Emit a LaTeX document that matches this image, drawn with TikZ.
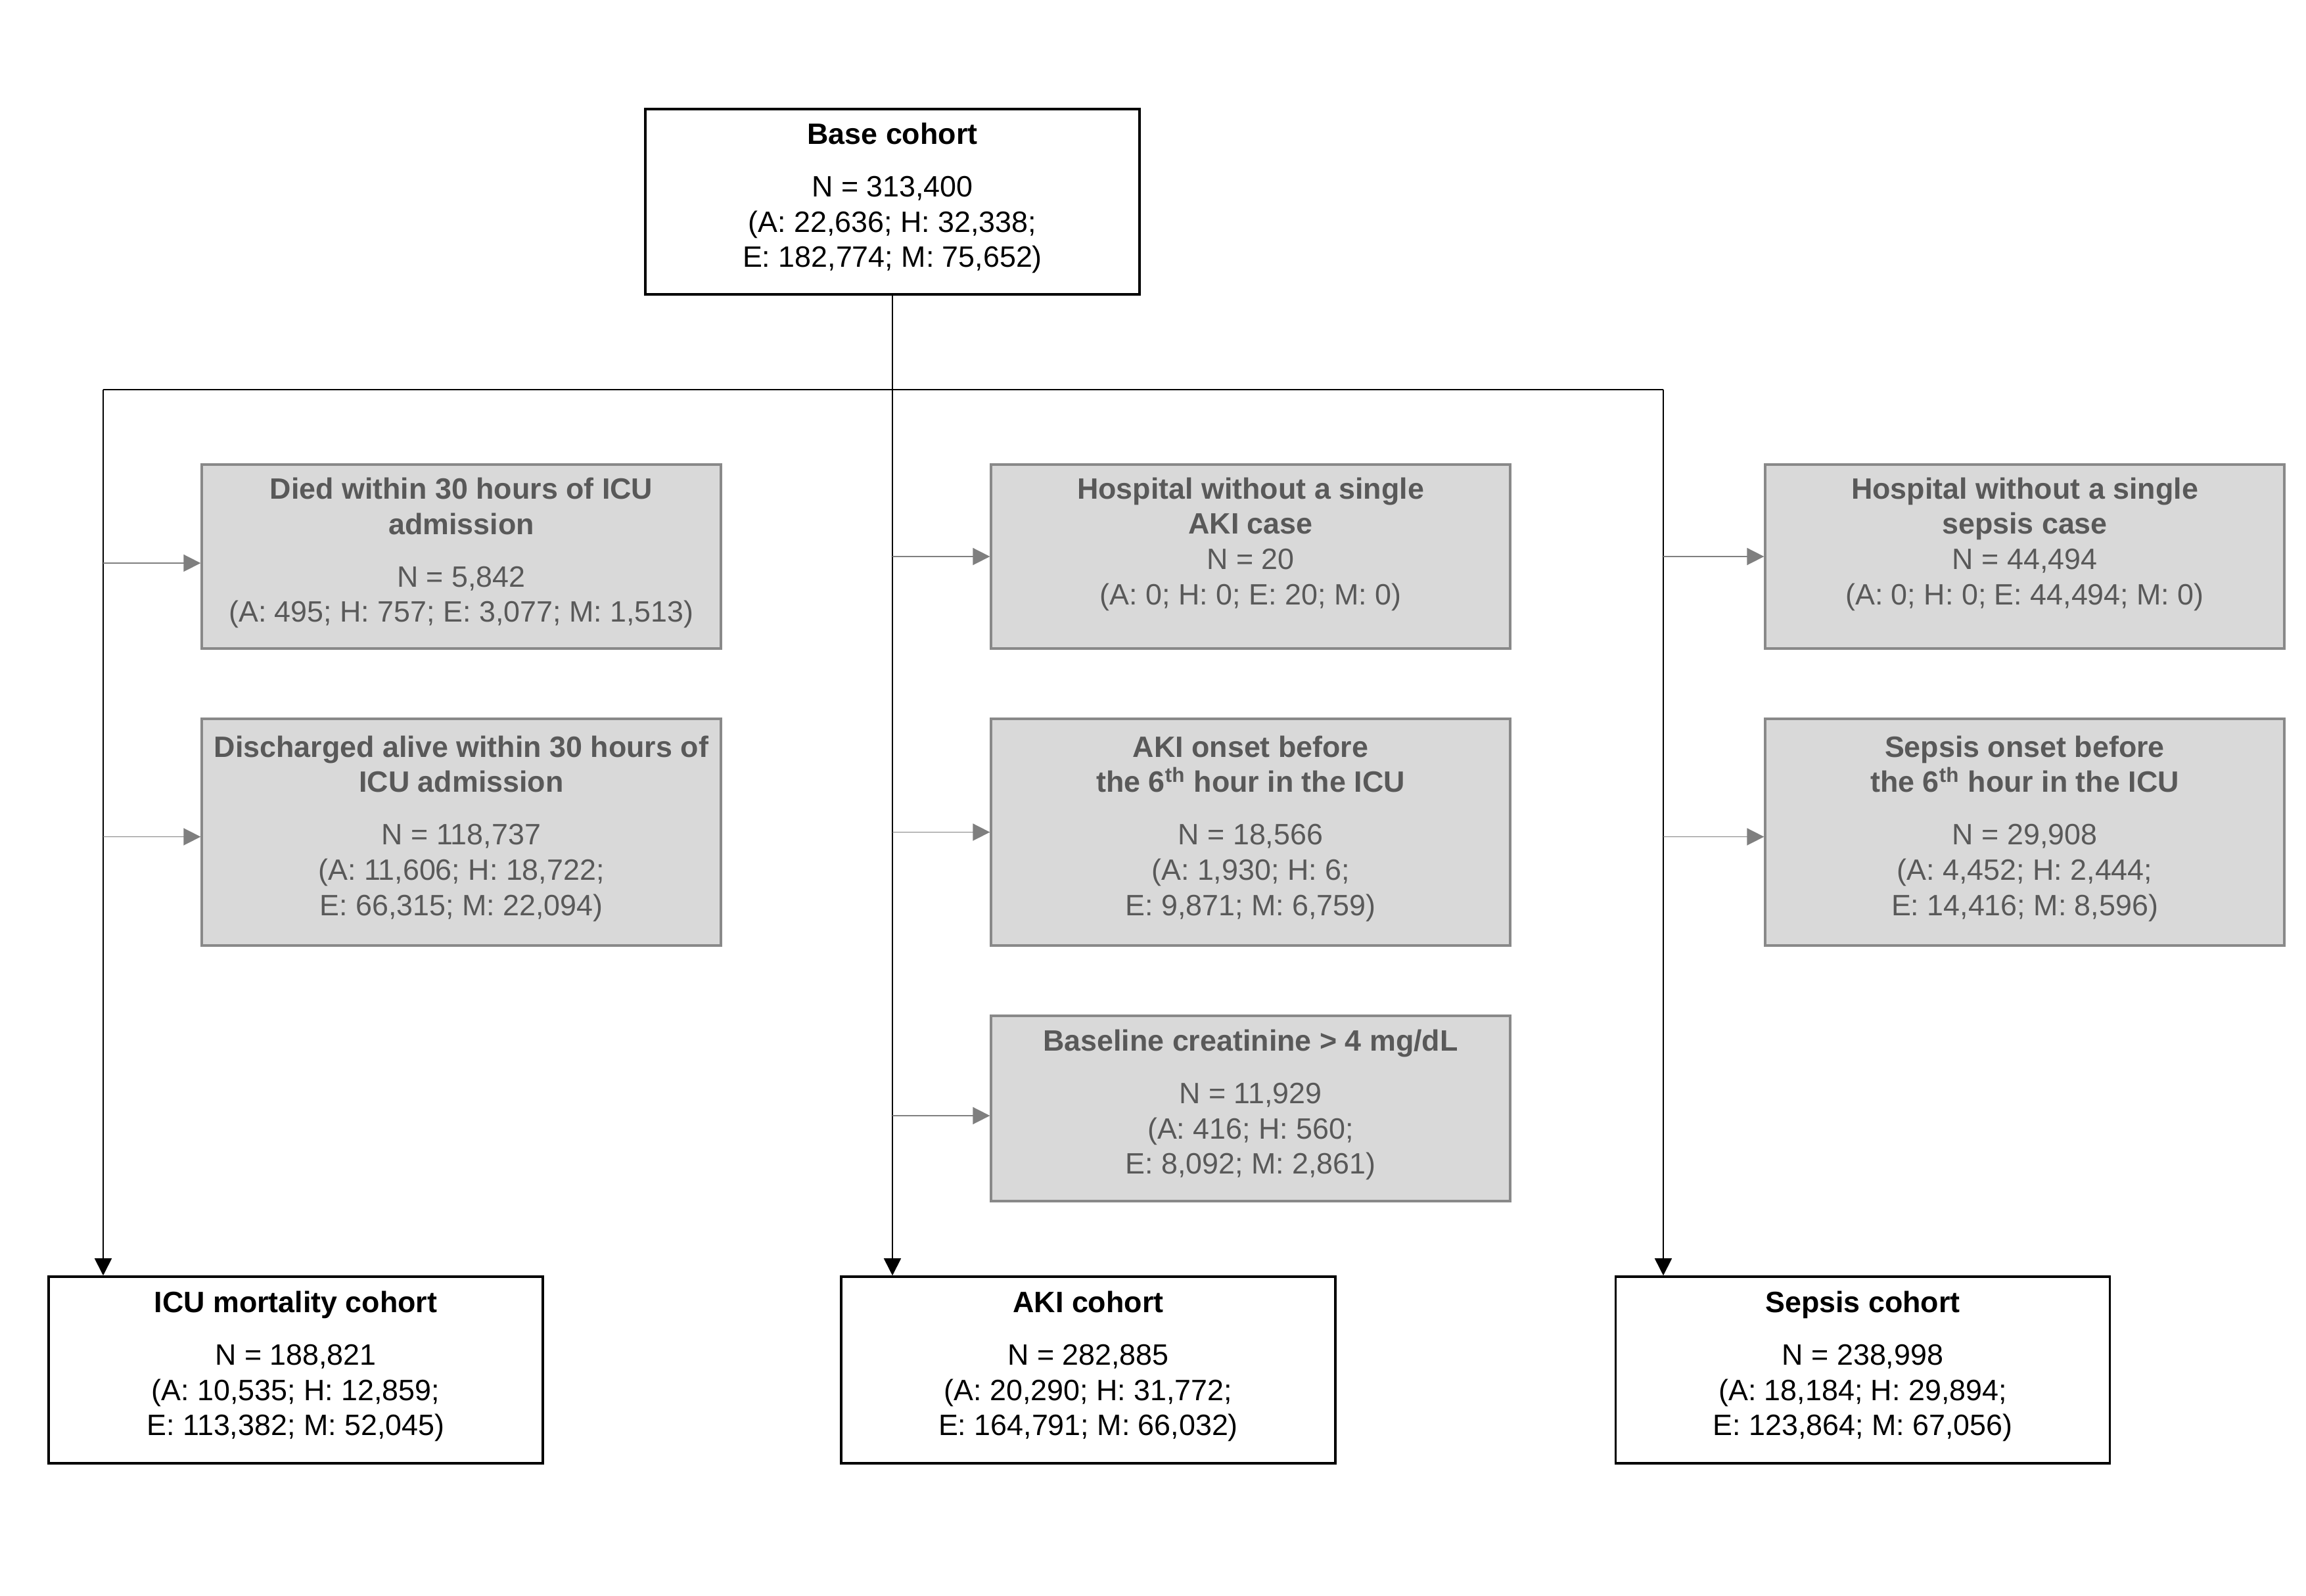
\documentclass[tikz,border=0pt]{standalone}
\usepackage{fontspec}
\setmainfont{Liberation Sans}
\usetikzlibrary{arrows.meta}
\definecolor{boxgray}{HTML}{D9D9D9}
\definecolor{edgegray}{HTML}{898989}
\definecolor{textgray}{HTML}{595959}
\definecolor{arrowgray}{HTML}{7F7F7F}

\begin{document}
\begin{tikzpicture}[font=\fontsize{12.75}{15.3}\selectfont,
  >={Triangle[width=0.26cm,length=0.26cm]},
  cohort/.style={draw=black,line width=1pt,fill=white,align=center,
    minimum width=7.52cm,minimum height=2.84cm,inner sep=0.1cm,
    text depth=0.2cm},
  excl/.style={draw=edgegray,line width=0.95pt,fill=boxgray,text=textgray,
    align=center,minimum width=7.90cm,inner sep=0.1cm,text depth=0.2cm},
  flow/.style={black,line width=0.5pt},
  side/.style={arrowgray,line width=0.5pt,->}]
  \useasboundingbox (0,0) rectangle (35.09,-24.29);

  \node[cohort,minimum height=2.82cm] (base) at (13.58,-3.07)
    {\textbf{Base cohort}\\[0.26cm]N = 313,400\\(A: 22,636; H: 32,338;\\E: 182,774; M: 75,652)};

  % exclusions, ICU mortality branch
  \node[excl,minimum height=2.80cm] (died) at (7.02,-8.47)
    {\textbf{Died within 30 hours of ICU}\\\textbf{admission}\\[0.26cm]N = 5,842\\(A: 495; H: 757; E: 3,077; M: 1,513)};
  \node[excl,minimum height=3.45cm] (disch) at (7.02,-12.665)
    {\textbf{Discharged alive within 30 hours of}\\\textbf{ICU admission}\\[0.26cm]N = 118,737\\(A: 11,606; H: 18,722;\\E: 66,315; M: 22,094)};

  % exclusions, AKI branch
  \node[excl,minimum height=2.80cm,text depth=0.47cm] (hospaki) at (19.03,-8.47)
    {\textbf{Hospital without a single}\\\textbf{AKI case}\\N = 20\\(A: 0; H: 0; E: 20; M: 0)};
  \node[excl,minimum height=3.45cm] (onsetaki) at (19.03,-12.665)
    {\textbf{AKI onset before}\\\textbf{the 6\textsuperscript{th} hour in the ICU}\\[0.26cm]N = 18,566\\(A: 1,930; H: 6;\\E: 9,871; M: 6,759)};
  \node[excl,minimum height=2.82cm] (creat) at (19.03,-16.87)
    {\textbf{Baseline creatinine > 4 mg/dL}\\[0.26cm]N = 11,929\\(A: 416; H: 560;\\E: 8,092; M: 2,861)};

  % exclusions, sepsis branch
  \node[excl,minimum height=2.80cm,text depth=0.47cm] (hospsep) at (30.81,-8.47)
    {\textbf{Hospital without a single}\\\textbf{sepsis case}\\N = 44,494\\(A: 0; H: 0; E: 44,494; M: 0)};
  \node[excl,minimum height=3.45cm] (onsetsep) at (30.81,-12.665)
    {\textbf{Sepsis onset before}\\\textbf{the 6\textsuperscript{th} hour in the ICU}\\[0.26cm]N = 29,908\\(A: 4,452; H: 2,444;\\E: 14,416; M: 8,596)};

  % final cohorts
  \node[cohort] (icu) at (4.50,-20.85)
    {\textbf{ICU mortality cohort}\\[0.26cm]N = 188,821\\(A: 10,535; H: 12,859;\\E: 113,382; M: 52,045)};
  \node[cohort] (aki) at (16.56,-20.85)
    {\textbf{AKI cohort}\\[0.26cm]N = 282,885\\(A: 20,290; H: 31,772;\\E: 164,791; M: 66,032)};
  \node[cohort] (sepsis) at (28.345,-20.85)
    {\textbf{Sepsis cohort}\\[0.26cm]N = 238,998\\(A: 18,184; H: 29,894;\\E: 123,864; M: 67,056)};

  \coordinate (split) at (13.58,-5.93);
  \coordinate (lft) at (1.57,-5.93);
  \coordinate (rgt) at (25.31,-5.93);

  \draw[flow] (base.south) -- (split);
  \draw[flow] (lft) -- (rgt);
  \draw[flow,->] (lft) -- (lft |- icu.north);
  \draw[flow,->] (split) -- (split |- aki.north);
  \draw[flow,->] (rgt) -- (rgt |- sepsis.north);

  % side arrows sit a little below the box middles
  \foreach \s/\b/\dy in {lft/died/-0.1,lft/disch/-0.07,
      split/hospaki/0,split/onsetaki/0,split/creat/-0.11,
      rgt/hospsep/0,rgt/onsetsep/-0.07}{
    \coordinate (tip) at ([yshift=\dy cm]\b.west);
    \draw[side] (\s |- tip) -- (tip);
  }
\end{tikzpicture}
\end{document}
